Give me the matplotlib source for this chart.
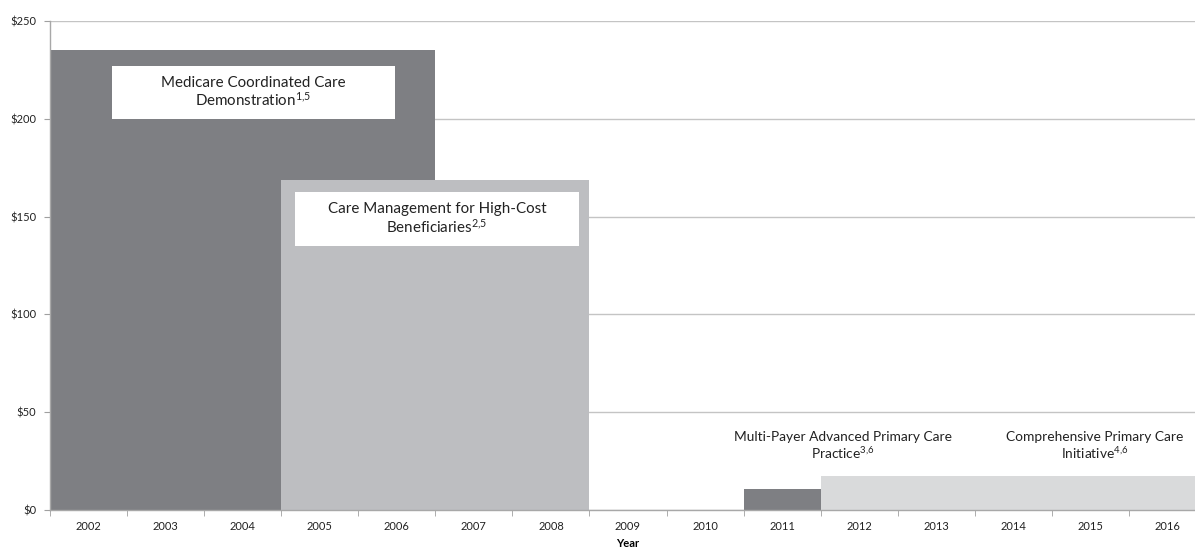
import matplotlib
matplotlib.use("Agg")
import matplotlib.pyplot as plt
from matplotlib.patches import Rectangle
from matplotlib.ticker import FixedLocator

plt.rcParams['font.family'] = ['Lato', 'DejaVu Sans']
plt.rcParams['mathtext.fontset'] = 'custom'
plt.rcParams['mathtext.rm'] = 'Lato'
plt.rcParams['mathtext.it'] = 'Lato'

years = [str(y) for y in range(2002, 2017)]
y_ticks = [0, 50, 100, 150, 200, 250]
y_tick_labels = ['$0', '$50', '$100', '$150', '$200', '$250']

programs = ['Medicare Coordinated Care Demonstration',
            'Care Management for High-Cost Beneficiaries',
            'Multi-Payer Advanced Primary Care Practice',
            'Comprehensive Primary Care Initiative']
start_years = [2002, 2005, 2011, 2012]
end_years = [2006, 2008, 2011, 2016]
values = [235, 168.7, 10.7, 17.5]
colors = ['#7e7f83', '#bdbec1', '#7e7f83', '#d9dadb']

fig = plt.figure(figsize=(11.95, 5.48), dpi=100)
ax = fig.add_axes([50/1195, 38/548, 1156/1195, 489/548])

idx0 = 2002
for s, e, v, c in zip(start_years, end_years, values, colors):
    left = s - idx0 - 0.5
    width = e - s + 1
    ax.bar(left, v, width=width, align='edge', color=c, zorder=2, linewidth=0)

ax.set_xlim(-0.5, len(years) - 0.5)
ax.set_ylim(0, 250)
ax.set_yticks(y_ticks)
ax.set_yticklabels(y_tick_labels, fontsize=8, color='#222222')
ax.set_xticks(range(len(years)))
ax.set_xticklabels(years, fontsize=8, color='#222222')
ax.xaxis.set_minor_locator(FixedLocator([i - 0.5 for i in range(len(years) + 1)]))
ax.tick_params(axis='x', which='major', length=0, pad=8)
ax.tick_params(axis='x', which='minor', length=4, color='#a0a0a0')
ax.tick_params(axis='y', length=4, color='#a0a0a0', pad=6)

ax.yaxis.grid(True, color='#c4c4c4', linewidth=1, zorder=0)
ax.set_axisbelow(True)
for sp in ['top', 'right']:
    ax.spines[sp].set_visible(False)
for sp in ['left', 'bottom']:
    ax.spines[sp].set_color('#a8a8a8')
    ax.spines[sp].set_linewidth(1)
ax.spines['bottom'].set_zorder(3)

ax.set_xlabel('Year', fontsize=8, fontweight='bold', labelpad=4)

# boxed labels
ax.add_patch(Rectangle((0.305, 200), 3.675, 27, facecolor='white', edgecolor='none', zorder=3))
ax.text(2.14, 213.5, 'Medicare Coordinated Care\nDemonstration$^{1{,}5}$', ha='center', va='center',
        fontsize=10.9, color='#222222', zorder=4, linespacing=1.1)
ax.add_patch(Rectangle((2.68, 135), 3.68, 27.6, facecolor='white', edgecolor='none', zorder=3))
ax.text(4.52, 149, 'Care Management for High-Cost\nBeneficiaries$^{2{,}5}$', ha='center', va='center',
        fontsize=10.9, color='#222222', zorder=4, linespacing=1.1)

ax.text(9.79, 32.5, 'Multi-Payer Advanced Primary Care\nPractice$^{3{,}6}$', ha='center', va='center',
        fontsize=9.9, color='#222222', zorder=4, linespacing=1.15)
ax.text(13.05, 32.5, 'Comprehensive Primary Care\nInitiative$^{4{,}6}$', ha='center', va='center',
        fontsize=9.9, color='#222222', zorder=4, linespacing=1.15)

fig.savefig('out.png', dpi=100)
